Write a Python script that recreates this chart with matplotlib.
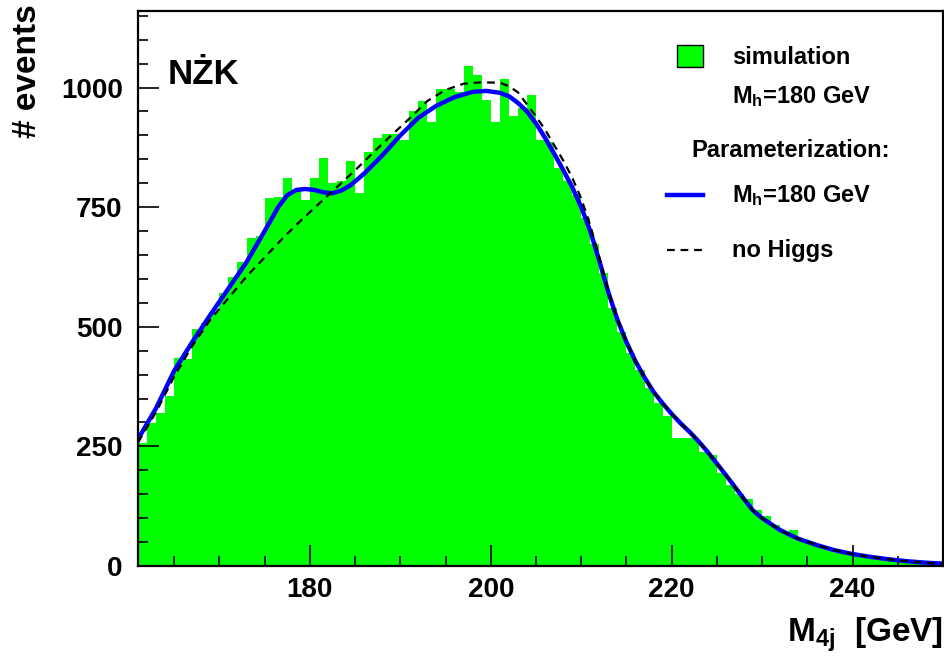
import matplotlib
matplotlib.use("Agg")
import matplotlib.pyplot as plt
import numpy as np
from matplotlib.patches import Rectangle
from matplotlib.lines import Line2D

plt.rcParams["font.family"] = ["Liberation Sans", "DejaVu Sans"]
plt.rcParams["font.weight"] = "bold"
plt.rcParams["mathtext.fontset"] = "custom"
plt.rcParams["mathtext.rm"] = "Liberation Sans:bold"
plt.rcParams["mathtext.it"] = "Liberation Sans:bold"
plt.rcParams["mathtext.bf"] = "Liberation Sans:bold"

# simulated four-jet mass spectrum, 1 GeV bins from 161 to 250 GeV
bin_edges = np.arange(161, 251, 1)
sim_counts = [
    258, 298, 320, 355, 435, 432, 495, 508, 530, 570,
    605, 635, 686, 690, 770, 772, 812, 785, 766, 812,
    853, 800, 805, 846, 780, 866, 895, 902, 902, 890,
    950, 971, 929, 996, 996, 990, 1045, 1027, 975, 929,
    1017, 940, 957, 985, 891, 887, 832, 805, 775, 728,
    672, 612, 540, 490, 445, 410, 372, 340, 313, 268,
    268, 267, 239, 232, 194, 170, 150, 140, 118, 105,
    85, 72, 75, 56, 50, 43, 36, 27, 30, 26,
    22, 21, 18, 14, 13, 10, 9, 8, 6,
]

# parameterization with a 180 GeV Higgs
fit_h_x = [161, 163, 165, 167, 169, 171, 173, 175, 176.5, 177.5, 178.5, 179.5,
           180.5, 181.5, 182.5, 183.5, 184.5, 186, 188, 190, 192, 194, 196, 198,
           199.5, 201, 202, 203, 204, 205, 206, 207, 208, 209, 210, 211, 212, 213,
           214, 215, 216, 217, 218, 219, 220, 221, 222, 223, 224, 225, 226, 227,
           228, 229, 230, 232, 234, 236, 238, 240, 242, 244, 246, 248, 250]
fit_h_y = [265, 330, 408, 468, 525, 580, 635, 700, 750, 775, 786, 788,
           786, 781, 779, 785, 796, 820, 858, 900, 937, 962, 980, 991,
           993, 989, 982, 968, 950, 925, 895, 862, 828, 792, 750, 700, 638, 572,
           515, 468, 428, 394, 364, 340, 318, 298, 280, 260, 238, 214, 190, 165,
           140, 116, 100, 75, 57, 44, 33, 25, 19, 14, 10, 7, 5]

# parameterization without Higgs
fit_0_x = [161, 163, 165, 167, 169, 171, 173, 175, 177, 179, 181, 183, 185, 187,
           189, 191, 193, 195, 197, 199, 201, 202, 203, 204, 205, 206, 207, 208,
           209, 210, 211, 212, 213, 214, 215, 216, 217, 218, 219, 220, 221, 222,
           223, 224, 225, 226, 227, 228, 229, 230, 232, 234, 236, 238, 240, 242,
           244, 246, 248, 250]
fit_0_y = [258, 322, 396, 460, 515, 560, 605, 645, 685, 722, 757, 792, 827, 864,
           900, 935, 972, 995, 1008, 1011, 1010, 1003, 990, 965, 940, 912, 880, 848,
           812, 768, 712, 645, 575, 515, 468, 428, 394, 364, 340, 318, 298, 280,
           260, 238, 214, 190, 165, 140, 116, 100, 75, 57, 44, 33, 25, 19,
           14, 10, 7, 5]

green = "#00ff00"
dash = (0, (3.5, 2.6))

fig = plt.figure(figsize=(9.44, 6.57), dpi=100)
ax = fig.add_axes([138 / 944, 1 - 566 / 657, 805 / 944, 555 / 657])

ax.stairs(sim_counts, bin_edges, fill=True, color=green, linewidth=0, zorder=1)
ax.plot(fit_h_x, fit_h_y, color="#0000ff", linewidth=3.2, zorder=3,
        solid_joinstyle="round")
ax.plot(fit_0_x, fit_0_y, color="black", linewidth=1.6, linestyle=dash, zorder=4)

ax.set_xlim(161, 250)
ax.set_ylim(0, 1160)
ax.set_xticks([180, 200, 220, 240])
ax.set_xticks(np.arange(165, 250, 5), minor=True)
ax.set_yticks([0, 250, 500, 750, 1000])
ax.set_yticks(np.arange(0, 1160, 50), minor=True)
ax.tick_params(direction="in", which="major", length=15, width=1.2,
               labelsize=20)
ax.tick_params(direction="in", which="minor", length=7.5, width=1.2)
ax.tick_params(axis="y", pad=11)
ax.tick_params(axis="x", pad=8)
for lab in ax.get_xticklabels() + ax.get_yticklabels():
    lab.set_fontweight("bold")
for side in ["left", "bottom", "top", "right"]:
    ax.spines[side].set_linewidth(1.6)
    ax.spines[side].set_zorder(5)

fig.text(168 / 944, 1 - 84 / 657, "NŻK", fontsize=25, fontweight="bold",
         ha="left", va="baseline")

# legend block
fs = 17
fig.patches.append(Rectangle((677 / 944, 1 - 67 / 657), 26 / 944, 22 / 657,
                             transform=fig.transFigure, facecolor=green,
                             edgecolor="black", linewidth=1.0, zorder=6))
fig.text(732 / 944, 1 - 57 / 657, "simulation", fontsize=fs, fontweight="bold",
         va="center")
fig.text(732 / 944, 1 - 97 / 657, r"M$_\mathregular{h}$=180 GeV", fontsize=fs,
         fontweight="bold", va="center")
fig.text(691 / 944, 1 - 151 / 657, "Parameterization:", fontsize=fs,
         fontweight="bold", va="center")
fig.lines.append(Line2D([667 / 944, 703 / 944], [1 - 195 / 657, 1 - 195 / 657],
                        transform=fig.transFigure, color="#0000ff", linewidth=3.2))
fig.text(732 / 944, 1 - 196 / 657, r"M$_\mathregular{h}$=180 GeV", fontsize=fs,
         fontweight="bold", va="center")
fig.lines.append(Line2D([667 / 944, 703 / 944], [1 - 250 / 657, 1 - 250 / 657],
                        transform=fig.transFigure, color="black", linewidth=1.6,
                        linestyle=dash))
fig.text(732 / 944, 1 - 250 / 657, "no Higgs", fontsize=fs, fontweight="bold",
         va="center")

# axis titles
fig.text(943 / 944, 1 - 642 / 657, r"M$_\mathregular{4j}$  [GeV]", fontsize=24,
         fontweight="bold", ha="right", va="baseline")
fig.text(28 / 944, 1 - 4 / 657, "# events", fontsize=24, fontweight="bold",
         rotation=90, ha="center", va="top")

fig.savefig("out.png", dpi=100)
